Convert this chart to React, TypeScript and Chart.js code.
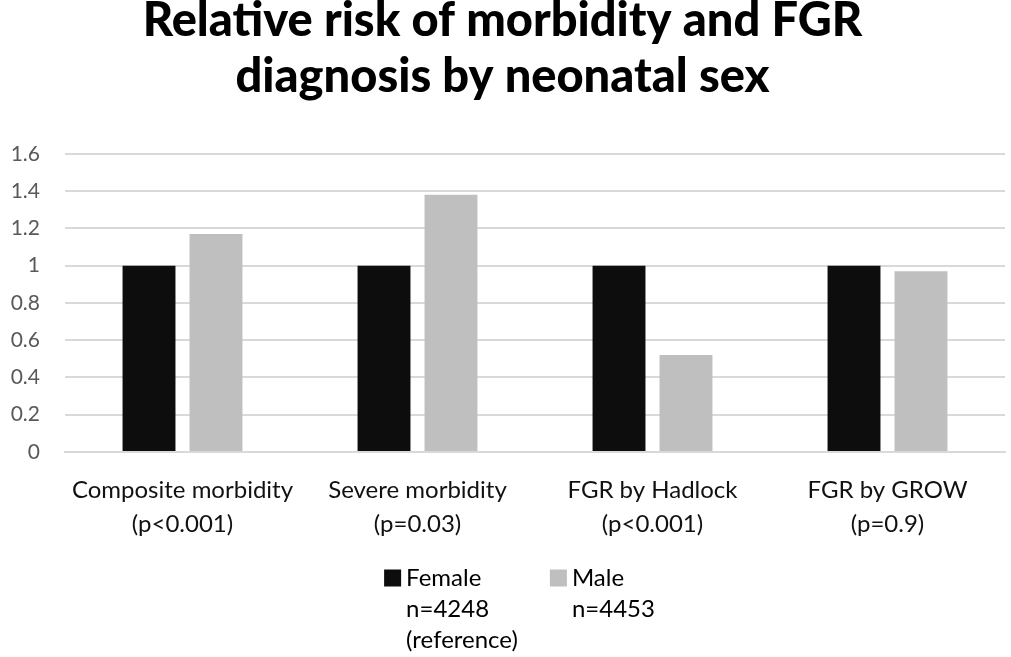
import React, { useEffect, useRef } from "react";
import { Chart, registerables } from "chart.js";

Chart.register(...registerables);

const titleLines = ["Relative risk of morbidity and FGR", "diagnosis by neonatal sex"];
const categories = [
  ["Composite morbidity", "(p<0.001)"],
  ["Severe morbidity", "(p=0.03)"],
  ["FGR by Hadlock", "(p<0.001)"],
  ["FGR by GROW", "(p=0.9)"],
];
const femaleValues = [1, 1, 1, 1];
const maleValues = [1.17, 1.38, 0.52, 0.97];
const femaleLegend = ["Female", "n=4248", "(reference)"];
const maleLegend = ["Male", "n=4453"];
const yMin = 0;
const yMax = 1.6;
const yStep = 0.2;

const FEMALE_COLOR = "#0d0d0d";
const MALE_COLOR = "#bfbfbf";
const FONT = "Lato, 'Open Sans', sans-serif";

const legendLines = [femaleLegend, maleLegend];

const multiLegend = {
  id: "multiLegend",
  afterDraw(chart: any) {
    const ctx = chart.ctx;
    ctx.save();
    ctx.font = `24px ${FONT}`;
    ctx.textBaseline = "middle";
    ctx.textAlign = "left";
    const box = 17;
    const gapText = 5;
    const itemGap = 32;
    const lineH = 31;
    const items = chart.data.datasets.map((ds: any, i: number) => ({
      lines: legendLines[i],
      color: ds.backgroundColor,
    }));
    const widths = items.map(
      (it: any) => box + gapText + Math.max(...it.lines.map((l: string) => ctx.measureText(l).width))
    );
    const total = widths.reduce((a: number, b: number) => a + b, 0) + itemGap * (items.length - 1);
    let x = chart.width / 2 - total / 2 + 14;
    const y0 = chart.chartArea.bottom + 126;
    items.forEach((it: any, i: number) => {
      ctx.fillStyle = it.color;
      ctx.fillRect(x, y0 - box / 2, box, box);
      ctx.fillStyle = "#000";
      it.lines.forEach((l: string, j: number) => {
        ctx.fillText(l, x + box + gapText, y0 + j * lineH);
      });
      x += widths[i] + itemGap;
    });
    ctx.restore();
  },
};

export default function App() {
  const ref = useRef<HTMLCanvasElement | null>(null);
  useEffect(() => {
    if (!ref.current) return;
    const chart = new Chart(ref.current, {
      type: "bar",
      data: {
        labels: categories,
        datasets: [
          {
            label: femaleLegend.join(" "),
            data: femaleValues,
            backgroundColor: FEMALE_COLOR,
            categoryPercentage: 0.57,
            barPercentage: 0.79,
          },
          {
            label: maleLegend.join(" "),
            data: maleValues,
            backgroundColor: MALE_COLOR,
            categoryPercentage: 0.57,
            barPercentage: 0.79,
          },
        ],
      },
      options: {
        responsive: false,
        animation: false,
        layout: { padding: { left: 0, right: 6, top: 0, bottom: 0 } },
        plugins: {
          legend: { display: false },
          tooltip: { enabled: false },
          title: {
            display: true,
            text: titleLines,
            color: "#000",
            font: { family: FONT, size: 47, weight: "900", lineHeight: 1.19 },
            padding: { top: -7, bottom: 49 },
          },
        },
        scales: {
          x: {
            grid: { display: false },
            border: { display: true, color: "#d9d9d9", width: 2 },
            ticks: {
              color: "#111",
              font: { family: FONT, size: 24, lineHeight: 1.42 },
              padding: 13,
              maxRotation: 0,
              autoSkip: false,
            },
            afterFit(scale: any) {
              scale.height = 205;
            },
          },
          y: {
            min: yMin,
            max: yMax,
            grid: { color: "#d9d9d9", lineWidth: 2, drawTicks: false },
            border: { display: false },
            ticks: {
              stepSize: yStep,
              color: "#595959",
              font: { family: FONT, size: 21 },
              padding: 25,
              callback: (v: any) => Number(v).toFixed(1).replace(/\.0$/, ""),
            },
            afterFit(scale: any) {
              scale.width = 65;
            },
          },
        },
      },
      plugins: [multiLegend],
    });
    return () => chart.destroy();
  }, []);
  return (
    <div style={{ position: "fixed", left: 0, top: 0, width: 1011, height: 657, background: "#fff" }}>
      <canvas ref={ref} width={1011} height={657} style={{ display: "block" }} />
    </div>
  );
}
